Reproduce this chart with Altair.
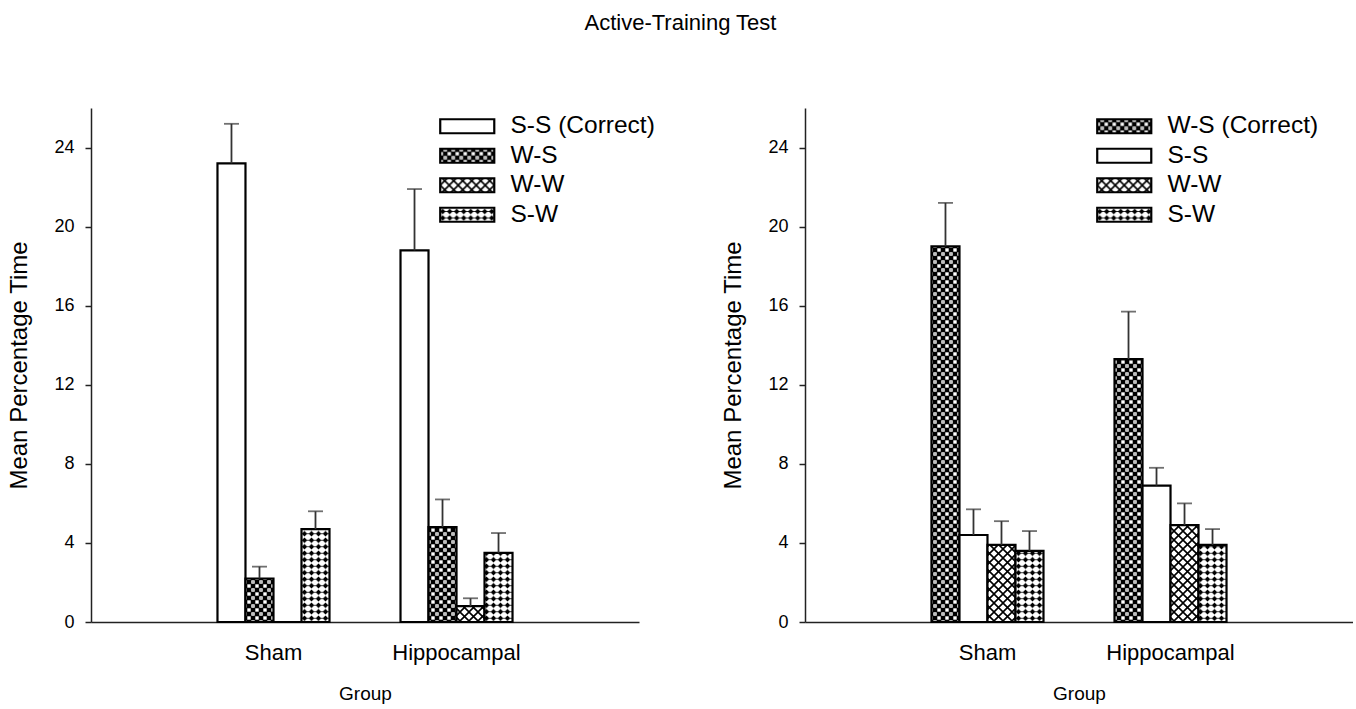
import altair as alt
import pandas as pd
import jinja2

# ---- data -------------------------------------------------------------
groups = ["Sham", "Hippocampal"]

# left panel: S-S is the correct choice
left_series = ["S-S (Correct)", "W-S", "W-W", "S-W"]
left_sham_mean = [23.2, 2.2, 0.0, 4.7]
left_sham_err = [2.0, 0.6, 0.0, 0.9]
left_hipp_mean = [18.8, 4.8, 0.8, 3.5]
left_hipp_err = [3.1, 1.4, 0.4, 1.0]

# right panel: W-S is the correct choice
right_series = ["W-S (Correct)", "S-S", "W-W", "S-W"]
right_sham_mean = [19.0, 4.4, 3.9, 3.6]
right_sham_err = [2.2, 1.3, 1.2, 1.0]
right_hipp_mean = [13.3, 6.9, 4.9, 3.9]
right_hipp_err = [2.4, 0.9, 1.1, 0.8]

# fill for each series (SVG patterns defined in the page template)
left_fills = ["white", "url(#pat-ws)", "url(#pat-ww)", "url(#pat-sw)"]
right_fills = ["url(#pat-ws)", "white", "url(#pat-ww)", "url(#pat-sw)"]

FONT = "Liberation Sans"


def make_frame(series, sham_mean, sham_err, hipp_mean, hipp_err):
    rows = []
    for g, means, errs in (("Sham", sham_mean, sham_err), ("Hippocampal", hipp_mean, hipp_err)):
        for s, m, e in zip(series, means, errs):
            rows.append({"group": g, "series": s, "mean": m, "upper": m + e, "err": e})
    return pd.DataFrame(rows)


def panel(df, series, fills, legend_x):
    x = alt.X(
        "group:N",
        sort=groups,
        title="Group",
        scale=alt.Scale(paddingInner=0.388, paddingOuter=0.691),
        axis=alt.Axis(labelAngle=0, ticks=False, labelPadding=20, titlePadding=21,
                      labelFontSize=22, titleFontSize=19),
    )
    xo = alt.XOffset("series:N", sort=series, scale=alt.Scale(paddingInner=0, paddingOuter=0))
    y = alt.Y(
        "mean:Q",
        title="Mean Percentage Time",
        scale=alt.Scale(domain=[0, 26], nice=False),
        axis=alt.Axis(values=[0, 4, 8, 12, 16, 20, 24], grid=False, tickSize=6,
                      labelPadding=11, titlePadding=22, titleFontSize=24),
    )
    bars = alt.Chart(df).mark_bar(stroke="black", strokeWidth=2.2).encode(
        x=x,
        xOffset=xo,
        y=y,
        fill=alt.Fill(
            "series:N",
            sort=series,
            scale=alt.Scale(domain=series, range=fills),
            legend=alt.Legend(
                title=None,
                orient="none",
                legendX=legend_x,
                legendY=6,
                symbolType="M-3.86,-1H3.86V1H-3.86Z",
                symbolSize=196,
                symbolStrokeColor="black",
                symbolStrokeWidth=2.2,
                symbolOpacity=1,
                labelFont=FONT,
                labelFontSize=24.5,
                labelColor="black",
                labelOffset=31,
                rowPadding=4.5,
            ),
        ),
    )
    err = alt.Chart(df).transform_filter("datum.err > 0").mark_rule(
        color="#333333", strokeWidth=1.8
    ).encode(x=x, xOffset=xo, y="mean:Q", y2="upper:Q")
    cap = alt.Chart(df).transform_filter("datum.err > 0").mark_tick(
        color="#333333", thickness=1.8, size=15
    ).encode(x=x, xOffset=xo, y="upper:Q")
    return alt.layer(bars, err, cap).properties(width=548, height=514)


left_df = make_frame(left_series, left_sham_mean, left_sham_err, left_hipp_mean, left_hipp_err)
right_df = make_frame(right_series, right_sham_mean, right_sham_err, right_hipp_mean, right_hipp_err)

chart = (
    alt.hconcat(
        panel(left_df, left_series, left_fills, 364),
        panel(right_df, right_series, right_fills, 307),
        spacing=166,
        bounds="flush",
    )
    .resolve_scale(fill="independent", xOffset="independent")
    .properties(
        title=alt.Title("Active-Training Test", font=FONT, fontSize=22, fontWeight="normal",
                        color="black", anchor="middle", offset=73),
        padding={"left": 7, "top": 12, "right": 0, "bottom": 5},
    )
    .configure_view(stroke=None)
    .configure_axis(
        domainColor="#222222", domainWidth=1.5, tickColor="#222222", tickWidth=1.5,
        labelFont=FONT, labelFontSize=18, labelColor="black",
        titleFont=FONT, titleFontSize=18, titleFontWeight="normal", titleColor="black",
    )
)

# page template: standard embed page plus the hatch patterns used as bar fills
PAGE = jinja2.Template("""<!DOCTYPE html>
<html>
<head>
  <meta charset="utf-8">
  <style>
    body { margin: 0; }
    #{{ output_div }}.vega-embed { width: 100%; display: flex; }
  </style>
  <script type="text/javascript" src="{{ base_url }}/vega@{{ vega_version }}"></script>
  <script type="text/javascript" src="{{ base_url }}/vega-lite@{{ vegalite_version }}"></script>
  <script type="text/javascript" src="{{ base_url }}/vega-embed@{{ vegaembed_version }}"></script>
</head>
<body>
  <svg width="0" height="0" style="position:absolute">
    <defs>
      <pattern id="pat-ws" patternUnits="userSpaceOnUse" width="8" height="8">
        <rect width="8" height="8" fill="black"/>
        <rect x="0.3" y="0.3" width="3.4" height="3.4" fill="white"/>
        <rect x="4.3" y="4.3" width="3.4" height="3.4" fill="white"/>
        <rect x="1.5" y="1.5" width="1" height="1" fill="black"/>
      </pattern>
      <pattern id="pat-ww" patternUnits="userSpaceOnUse" width="9" height="9">
        <rect width="9" height="9" fill="white"/>
        <path d="M0,0L9,9M9,0L0,9" stroke="black" stroke-width="1.6"/>
      </pattern>
      <pattern id="pat-sw" patternUnits="userSpaceOnUse" width="7" height="6.5">
        <rect width="7" height="6.5" fill="white"/>
        <path d="M0,3.25H7" stroke="black" stroke-width="0.8"/>
        <path d="M3.5,0.5L6.3,3.25L3.5,6L0.7,3.25Z" fill="black"/>
      </pattern>
    </defs>
  </svg>
  <div id="{{ output_div }}"></div>
  <script type="text/javascript">
    (function(vegaEmbed) {
      var spec = {{ spec }};
      var embedOpt = {{ embed_options }};
      function showError(el, error){
        el.innerHTML = ('<div style="color:red;"><p>JavaScript Error: ' + error.message + '</p></div>');
        throw error;
      }
      const el = document.getElementById('{{ output_div }}');
      vegaEmbed("#{{ output_div }}", spec, embedOpt).catch(error => showError(el, error));
    })(vegaEmbed);
  </script>
</body>
</html>
""")

chart.save("out.html", embed_options={"renderer": "svg", "actions": False}, template=PAGE)
